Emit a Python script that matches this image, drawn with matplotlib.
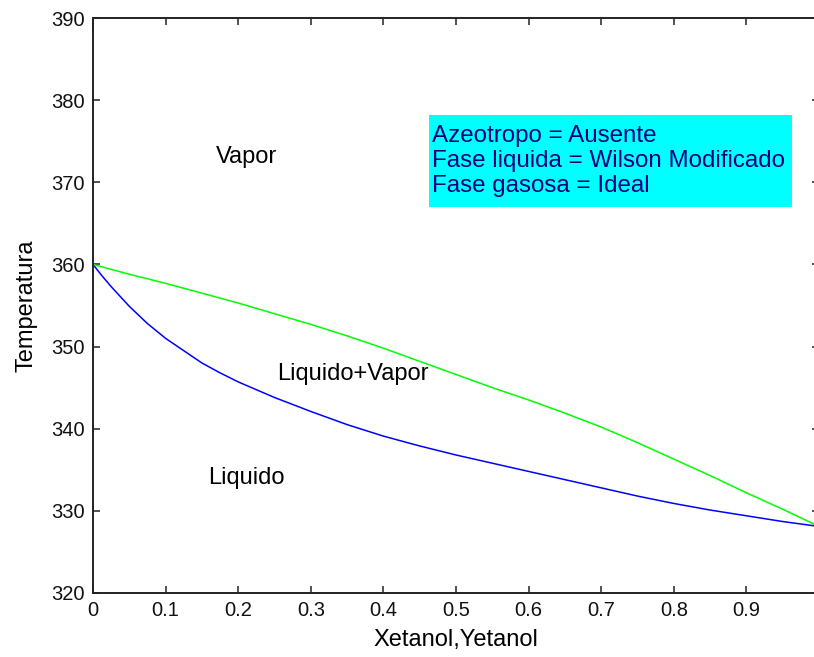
import matplotlib
matplotlib.use("Agg")
import matplotlib.pyplot as plt
from matplotlib.patches import Rectangle

plt.rcParams['font.family'] = ['Liberation Sans', 'DejaVu Sans']

# Liquid (bubble) curve: T vs x ethanol
x_liq = [0.0, 0.0125, 0.025, 0.0375, 0.05, 0.075, 0.1, 0.125, 0.15, 0.175, 0.2,
         0.25, 0.3, 0.35, 0.4, 0.45, 0.5, 0.55, 0.6, 0.65, 0.7, 0.75, 0.8,
         0.85, 0.9, 0.95, 1.0]
T_liq = [360.0, 358.6, 357.3, 356.1, 354.9, 352.8, 351.0, 349.5, 348.0, 346.8,
         345.7, 343.8, 342.1, 340.5, 339.1, 337.9, 336.8, 335.8, 334.8, 333.8,
         332.8, 331.8, 330.9, 330.1, 329.4, 328.7, 328.1]

# Vapor (dew) curve: T vs y ethanol
y_vap = [0.0, 0.05, 0.1, 0.15, 0.2, 0.25, 0.3, 0.35, 0.4, 0.45, 0.5, 0.55,
         0.6, 0.65, 0.7, 0.75, 0.8, 0.85, 0.9, 0.95, 1.0]
T_vap = [360.0, 358.8, 357.7, 356.5, 355.3, 354.0, 352.7, 351.3, 349.8, 348.2,
         346.6, 345.0, 343.5, 341.9, 340.2, 338.3, 336.3, 334.3, 332.2, 330.2,
         328.1]

x_ticks = [0, 0.1, 0.2, 0.3, 0.4, 0.5, 0.6, 0.7, 0.8, 0.9]
x_tick_labels = ['0', '0.1', '0.2', '0.3', '0.4', '0.5', '0.6', '0.7', '0.8', '0.9']
y_ticks = [320, 330, 340, 350, 360, 370, 380, 390]

info_lines = ["Azeotropo = Ausente",
              "Fase liquida = Wilson Modificado",
              "Fase gasosa = Ideal"]

W, H = 814, 657
fig = plt.figure(figsize=(W / 100, H / 100), dpi=100)
fig.patch.set_facecolor('white')
ax = fig.add_axes([93 / W, (H - 593) / H, 726 / W, 575 / H])

ax.plot(x_liq, T_liq, color='#0000ff', lw=1.1)
ax.plot(y_vap, T_vap, color='#00ff00', lw=1.1)

ax.set_xlim(0, 1)
ax.set_ylim(320, 390)
ax.set_xticks(x_ticks)
ax.set_xticklabels(x_tick_labels)
ax.set_yticks(y_ticks)

for s in ax.spines.values():
    s.set_linewidth(1.4)
    s.set_color('#222222')
ax.tick_params(direction='in', length=5, width=1.1, top=True, right=True,
               labelsize=14.5, pad=6, colors='#222222', labelcolor='#111111')

ax.set_xlabel('Xetanol,Yetanol', fontsize=17, labelpad=6)
ax.set_ylabel('Temperatura', fontsize=17, labelpad=10)

ax.text(0.211, 373.1, 'Vapor', fontsize=17, ha='center', va='center')
ax.text(0.358, 346.7, 'Liquido+Vapor', fontsize=17, ha='center', va='center')
ax.text(0.211, 334.0, 'Liquido', fontsize=17, ha='center', va='center')

# info box
ax.add_patch(Rectangle((0.463, 367.0), 0.5, 11.2, facecolor='#00ffff',
                       edgecolor='none', zorder=3))
ax.text(0.4665, 372.6, "\n".join(info_lines), fontsize=17.4, color='#000080',
        ha='left', va='center', linespacing=1.2, zorder=4)

fig.savefig('out.png', dpi=100, facecolor='white')
